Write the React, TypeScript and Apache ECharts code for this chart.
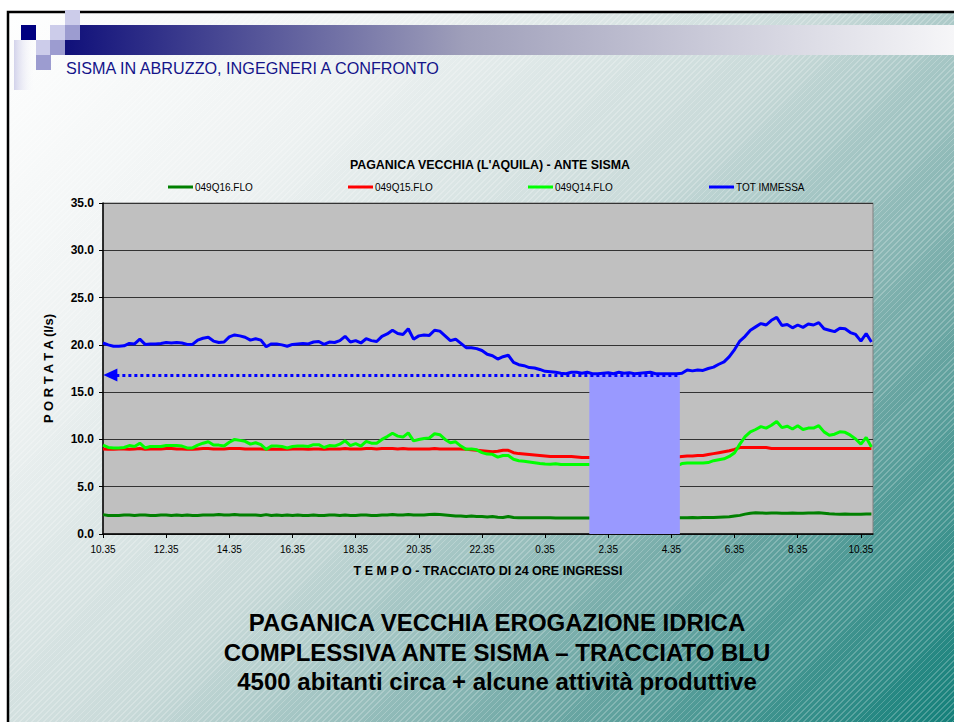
import React, { useEffect, useRef } from "react";
import * as echarts from "echarts";

// sampling step of the series, in minutes after 10.35
const STEP_MIN = 10;
const TICK_STEP_MIN = 120;
const TICK_LABELS = ["10.35", "12.35", "14.35", "16.35", "18.35", "20.35", "22.35", "0.35", "2.35", "4.35", "6.35", "8.35", "10.35"];
const X_MAX_MIN = 1463;

const SERIES_NAMES = ["049Q16.FLO", "049Q15.FLO", "049Q14.FLO", "TOT IMMESSA"];

const Q16 = [
  2.05, 1.95, 1.95, 1.95, 2.0, 2.0, 1.95, 2.0, 2.0, 1.95, 1.95, 2.0, 2.0, 1.95, 2.0, 1.95, 2.0, 1.95, 1.95, 2.0,
  2.0, 2.0, 2.05, 2.0, 2.0, 2.05, 2.0, 2.0, 2.0, 2.0, 1.95, 2.05, 1.95, 2.0, 1.95, 2.0, 1.95,
  2.0, 1.95, 1.95, 2.0, 1.95, 1.95, 2.0, 2.0, 1.95, 2.0, 1.95, 1.95, 2.0, 2.0, 1.95, 1.95, 2.0, 2.0, 2.05, 2.0,
  2.0, 2.05, 2.0, 2.0, 2.0, 2.05, 2.1, 2.05, 2.0, 1.95, 1.9, 1.9, 1.85, 1.9, 1.85, 1.85, 1.8,
  1.85, 1.78, 1.75, 1.85, 1.75, 1.73, 1.73, 1.73, 1.73, 1.73, 1.73, 1.72, 1.7, 1.7, 1.68, 1.7, 1.68, 1.68, 1.68, 1.68,
  null, null, null, null, null, null, null, null, null, null, null, null, null, null, null,
  1.72,
  1.73, 1.73, 1.75, 1.73, 1.75, 1.75, 1.75, 1.78, 1.8, 1.82,
  1.9, 1.97, 2.1, 2.2, 2.25, 2.22, 2.2, 2.22, 2.22, 2.2,
  2.2, 2.22, 2.2, 2.2, 2.22, 2.22, 2.25, 2.2, 2.15, 2.12,
  2.1, 2.12, 2.1, 2.1, 2.1, 2.12, 2.12,
];

const Q15 = [
  9.0, 8.95, 8.95, 9.0, 9.0, 8.95, 9.0, 9.05, 8.95, 9.0, 9.0, 9.0, 9.05, 9.05, 9.0, 9.0, 8.95, 8.95, 9.0, 9.05,
  9.05, 9.0, 9.0, 9.0, 9.05, 9.05, 9.05, 9.0, 9.0, 9.0, 9.0, 8.95, 9.0, 8.95, 9.0, 8.95, 9.0,
  9.0, 9.0, 8.95, 9.0, 9.0, 8.95, 9.0, 9.0, 9.0, 9.05, 9.0, 9.0, 9.0, 9.05, 9.05, 9.0, 9.05, 9.05, 9.05, 9.0,
  9.05, 9.0, 9.0, 9.0, 9.0, 9.0, 9.05, 9.0, 9.0, 9.0, 9.0, 9.0,
  8.95, 8.9, 8.85, 8.8, 8.75,
  8.7, 8.75, 8.85, 8.85, 8.6, 8.5, 8.45, 8.4, 8.35, 8.3, 8.25, 8.2, 8.2, 8.2, 8.2, 8.2, 8.15, 8.1, 8.1, 8.1,
  null, null, null, null, null, null, null, null, null, null, null, null, null, null, null,
  8.15,
  8.2, 8.25, 8.25, 8.3, 8.3, 8.4, 8.5, 8.6, 8.7, 8.8, 8.95,
  9.15, 9.15, 9.15, 9.15, 9.15, 9.15,
  9.05, 9.05, 9.05, 9.05, 9.05, 9.05, 9.05, 9.05, 9.05, 9.05, 9.05, 9.05, 9.05, 9.05, 9.05, 9.05, 9.05, 9.05, 9.05, 9.05,
];

const Q14 = [
  9.4, 9.15, 9.1, 9.1, 9.15, 9.35, 9.25, 9.6, 9.1, 9.25, 9.25, 9.25, 9.35, 9.35, 9.35, 9.3, 9.1, 9.1, 9.4, 9.6,
  9.75, 9.4, 9.4, 9.3, 9.7, 10.0, 9.9, 9.8, 9.5, 9.65, 9.45, 8.95, 9.3, 9.3, 9.25, 9.1, 9.25,
  9.3, 9.3, 9.25, 9.45, 9.45, 9.15, 9.35, 9.3, 9.5, 9.85, 9.35, 9.55, 9.3, 9.8, 9.6, 9.6, 10.0, 10.3, 10.65, 10.35,
  10.25, 10.7, 9.85, 10.0, 10.1, 10.15, 10.6, 10.5, 10.0, 9.65, 9.75, 9.3, 8.95, 9.0, 8.9, 8.6, 8.45,
  8.42, 8.13, 8.3, 8.3, 7.9, 7.75, 7.7, 7.62, 7.54, 7.46, 7.4, 7.38, 7.42, 7.36, 7.36, 7.36, 7.36, 7.36, 7.36, 7.36,
  null, null, null, null, null, null, null, null, null, null, null, null, null, null, null,
  7.2,
  7.45, 7.5, 7.5, 7.5, 7.5, 7.55, 7.75, 7.85, 7.95, 8.2, 8.6, 9.5, 10.3, 10.8, 11.05, 11.35, 11.2, 11.5, 11.9, 11.25,
  11.4, 11.1, 11.45, 11.05, 11.2, 11.2, 11.45, 10.8, 10.45, 10.55, 10.8, 10.75, 10.45, 10.05, 9.5, 10.2, 9.2,
];

const TOT = [
  20.2, 20.0, 19.85, 19.85, 19.9, 20.15, 20.1, 20.6, 20.05, 20.1, 20.1, 20.15, 20.25, 20.2, 20.25, 20.2, 20.05, 20.05, 20.5, 20.7,
  20.8, 20.4, 20.25, 20.3, 20.85, 21.05, 20.95, 20.8, 20.5, 20.65, 20.5, 19.8, 20.1, 20.1, 20.0, 19.85, 20.05,
  20.1, 20.15, 20.1, 20.3, 20.35, 20.05, 20.3, 20.25, 20.45, 20.9, 20.3, 20.45, 20.2, 20.65, 20.45, 20.35, 20.9, 21.15, 21.55, 21.2,
  21.1, 21.7, 20.6, 20.95, 21.05, 21.0, 21.55, 21.45, 20.95, 20.45, 20.6, 20.15, 19.7, 19.7, 19.6, 19.4, 19.0,
  18.85, 18.5, 18.75, 18.9, 18.15, 17.9, 17.8, 17.6, 17.55, 17.4, 17.2, 17.15, 17.1, 17.0, 16.95, 17.1, 17.1, 17.0, 17.1,
  16.95, 16.95, 17.0, 17.05, 16.95, 17.1, 17.0, 17.05, 16.95, 17.0, 17.05, 17.1, 16.95, 16.95, 16.95, 16.95, 16.95, 17.0,
  17.35, 17.25, 17.35, 17.3, 17.5, 17.65, 17.95, 18.2, 18.75, 19.5, 20.4, 20.9, 21.55, 21.9, 22.25, 22.1, 22.6, 22.9, 22.05,
  22.15, 21.8, 22.1, 21.85, 22.2, 22.1, 22.35, 21.7, 21.55, 21.4, 21.75, 21.7, 21.3, 21.1, 20.4, 21.2, 20.3,
];

// night-minimum band (minutes after 10.35) and reference level
const BAND_START_MIN = 924;
const BAND_END_MIN = 1096;
const MIN_LEVEL = 16.8;
const ARROW_START_MIN = 14;

const SLIDE_TITLE = "SISMA IN ABRUZZO, INGEGNERI A CONFRONTO";
const CHART_TITLE = "PAGANICA VECCHIA (L'AQUILA) - ANTE SISMA";
const X_NAME = "T E M P O - TRACCIATO DI 24 ORE INGRESSI";
const Y_NAME = "P O R T A T A (l/s)";
const CAPTION = [
  "PAGANICA VECCHIA EROGAZIONE IDRICA",
  "COMPLESSIVA ANTE SISMA \u2013 TRACCIATO BLU",
  "4500 abitanti circa + alcune attivit\u00e0 produttive",
];

const COLORS = ["#008000", "#ff0000", "#00ff00", "#0000ff"];
const FONT = "'Liberation Sans', Arial, Helvetica, sans-serif";

const toPairs = (arr: (number | null)[]) => arr.map((v, i) => [i * STEP_MIN, v]);

export default function App() {
  const ref = useRef<HTMLDivElement>(null);

  useEffect(() => {
    if (!ref.current) return;
    const chart = echarts.init(ref.current, null, { renderer: "svg" });
    const dataSets = [Q16, Q15, Q14, TOT];
    const tickValues = TICK_LABELS.map((_, i) => i * TICK_STEP_MIN);
    const legendLefts = [168, 348, 528, 709];

    const lineSeries: any[] = dataSets.map((d, k) => ({
      name: SERIES_NAMES[k],
      type: "line",
      data: toPairs(d),
      showSymbol: false,
      symbol: "none",
      connectNulls: false,
      z: k === 3 ? 5 : 2,
      lineStyle: { color: COLORS[k], width: 3 },
      itemStyle: { color: COLORS[k] },
      emphasis: { disabled: true },
    }));

    lineSeries[3].markLine = {
      silent: true,
      symbol: ["triangle", "none"],
      symbolSize: [13, 14],
      label: { show: false },
      lineStyle: { color: "#0000ff", width: 3, type: [3, 3] },
      data: [[{ coord: [ARROW_START_MIN, MIN_LEVEL] }, { coord: [BAND_END_MIN, MIN_LEVEL] }]],
    };

    const bandSeries = {
      type: "custom",
      z: 3,
      silent: true,
      data: [[BAND_START_MIN, BAND_END_MIN, MIN_LEVEL]],
      renderItem: (params: any, api: any) => {
        const p0 = api.coord([api.value(0), api.value(2)]);
        const p1 = api.coord([api.value(1), 0]);
        return {
          type: "rect",
          shape: { x: p0[0], y: p0[1], width: p1[0] - p0[0], height: p1[1] - p0[1] },
          style: { fill: "#9999ff" },
        };
      },
    };

    const sq = (x: number, y: number, fill: string) => ({
      type: "rect",
      shape: { x, y, width: 15, height: 15 },
      style: { fill },
      silent: true,
    });

    const option: any = {
      animation: false,
      backgroundColor: "transparent",
      textStyle: { fontFamily: FONT },
      legend: SERIES_NAMES.map((n, k) => ({
        data: [n],
        left: legendLefts[k],
        top: 182,
        icon: "rect",
        itemWidth: 25,
        itemHeight: 3,
        padding: 0,
        selectedMode: false,
        textStyle: { fontSize: 10, color: "#000", fontFamily: FONT, padding: [0, 0, 0, -3] },
      })),
      grid: {
        left: 103,
        top: 203,
        right: 81,
        bottom: 188,
        show: true,
        backgroundColor: "#c0c0c0",
        borderColor: "#808080",
        borderWidth: 1,
      },
      xAxis: {
        type: "value",
        min: 0,
        max: X_MAX_MIN,
        name: X_NAME,
        nameLocation: "middle",
        nameGap: 30,
        nameTextStyle: { fontSize: 12.5, fontWeight: "bold", color: "#000", fontFamily: FONT },
        axisLine: { show: true, lineStyle: { color: "#000", width: 1.5 } },
        axisTick: { show: true, length: 4, lineStyle: { color: "#000" }, customValues: tickValues },
        axisLabel: {
          customValues: tickValues,
          margin: 10,
          fontSize: 10,
          color: "#000",
          fontFamily: FONT,
          formatter: (v: number) => TICK_LABELS[Math.round(v / TICK_STEP_MIN)] ?? "",
        },
        splitLine: { show: false },
      },
      yAxis: {
        type: "value",
        min: 0,
        max: 35,
        interval: 5,
        name: Y_NAME,
        nameLocation: "middle",
        nameGap: 48,
        nameRotate: 90,
        nameTextStyle: { fontSize: 13, fontWeight: "bold", color: "#000", fontFamily: FONT },
        axisLine: { show: true, lineStyle: { color: "#000", width: 1.5 } },
        axisTick: { show: true, length: 4, lineStyle: { color: "#000" } },
        axisLabel: {
          margin: 9,
          fontSize: 12,
          fontWeight: "bold",
          color: "#000",
          fontFamily: FONT,
          formatter: (v: number) => v.toFixed(1),
        },
        splitLine: { show: true, lineStyle: { color: "#333", width: 1 } },
      },
      series: [...lineSeries.slice(0, 3), bandSeries, lineSeries[3]],
      graphic: [
        // outside of the slide
        { type: "rect", silent: true, shape: { x: 0, y: 0, width: 954, height: 11 }, style: { fill: "#ffffff" } },
        { type: "rect", silent: true, shape: { x: 0, y: 0, width: 7, height: 722 }, style: { fill: "#ffffff" } },
        // slide frame
        { type: "rect", silent: true, shape: { x: 8, y: 12, width: 960, height: 720 }, style: { fill: "none", stroke: "#000", lineWidth: 2.5 } },
        // header decoration
        {
          type: "rect", silent: true, shape: { x: 14, y: 40, width: 22, height: 50 },
          style: { fill: new echarts.graphic.LinearGradient(0, 0, 1, 0, [{ offset: 0, color: "rgba(200,200,230,0.8)" }, { offset: 1, color: "rgba(255,255,255,0)" }]) },
        },
        {
          type: "rect", silent: true, shape: { x: 65, y: 25, width: 889, height: 30 },
          style: {
            fill: new echarts.graphic.LinearGradient(0, 0, 1, 0, [
              { offset: 0, color: "#10107a" },
              { offset: 0.45, color: "#9f9fba" },
              { offset: 1, color: "#f6f6f8" },
            ]),
          },
        },
        sq(21, 25, "#000080"),
        sq(50, 25, "#ccccea"),
        sq(65, 25, "#9c9cd0"),
        sq(65, 10, "#ccccea"),
        sq(36, 40, "#ccccea"),
        sq(50, 40, "#9c9cd0"),
        sq(36, 55, "#9c9cd0"),
        {
          type: "text", x: 66, y: 68, silent: true,
          style: { text: SLIDE_TITLE, fontSize: 16.2, fontFamily: FONT, fill: "#14148a", align: "left", verticalAlign: "middle" },
        },
        {
          type: "text", x: 490, y: 165, silent: true,
          style: { text: CHART_TITLE, fontSize: 12.4, fontWeight: "bold", fontFamily: FONT, fill: "#000", align: "center", verticalAlign: "middle" },
        },
        ...CAPTION.map((t, i) => ({
          type: "text", x: 497, y: [622, 652, 681][i], silent: true,
          style: { text: t, fontSize: 24, fontWeight: "bold", fontFamily: FONT, fill: "#000", align: "center", verticalAlign: "middle" },
        })),
      ],
    };

    chart.setOption(option);
    return () => chart.dispose();
  }, []);

  return (
    <div
      style={{
        position: "absolute",
        left: 0,
        top: 0,
        width: 954,
        height: 722,
        overflow: "hidden",
        background:
          "repeating-linear-gradient(135deg, rgba(255,255,255,0) 0px, rgba(255,255,255,0) 3px, rgba(255,255,255,0.22) 3px, rgba(255,255,255,0.22) 4.2px), linear-gradient(135deg, #ffffff 0%, #eef2f2 25%, #c9dad9 50%, #6fa8a5 75%, #14807a 100%)",
      }}
    >
      <div ref={ref} style={{ width: 954, height: 722 }} />
    </div>
  );
}
